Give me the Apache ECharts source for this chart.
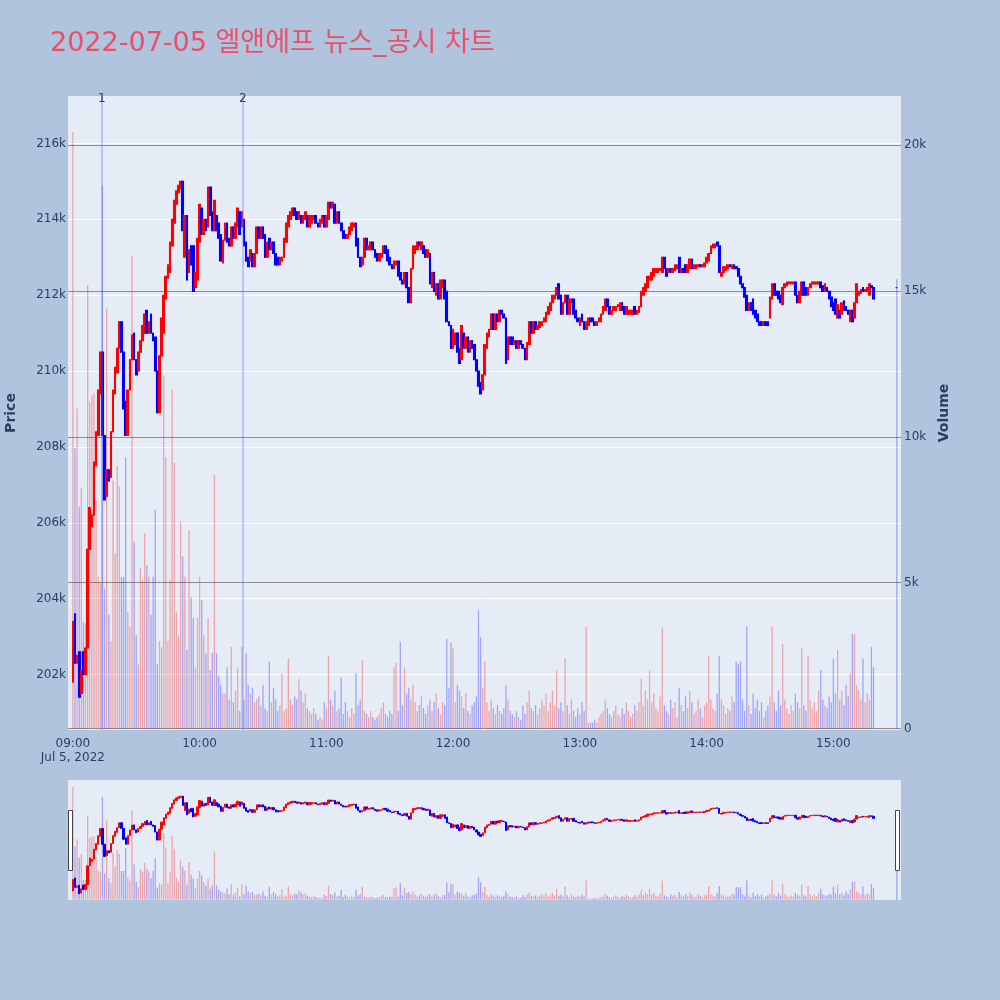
<!DOCTYPE html>
<html>
<head>
<meta charset="utf-8">
<script src="https://cdn.jsdelivr.net/npm/echarts@6/dist/echarts.min.js"></script>
<style>
html,body{margin:0;padding:0;background:#B0C4DE;}
#chart{width:1000px;height:1000px;}
</style>
</head>
<body>
<div id="chart"></div>
<script>
// ---------------- data ----------------
const chartTitle = '2022-07-05 엘앤에프 뉴스_공시 차트';
const dayLabel = 'Jul 5, 2022';
const firstBarTime = '09:00';
const closingAuctionTime = '15:30';
const continuousBars = 380; // 09:00 .. 15:19, then the 15:30 closing auction bar

// prices in thousands of KRW
const opens = [
201.8,203.6,202.3,202.6,201.5,202.6,202.0,202.7,205.3,205.9,
206.2,207.5,208.3,209.4,210.5,208.3,206.7,207.4,207.2,208.4,
209.4,209.95,210.6,211.3,210.5,209.2,208.3,209.5,210.3,211.0,
210.3,210.0,210.5,210.8,211.0,211.6,211.0,211.5,211.0,210.9,
210.0,208.9,210.4,211.0,211.9,212.45,212.6,213.3,213.9,214.4,
214.7,214.8,215.0,213.0,214.1,212.6,213.3,213.3,212.2,212.4,
213.4,214.3,213.6,214.0,213.8,214.85,214.2,213.7,214.1,213.9,
213.6,212.85,213.45,213.9,213.5,213.3,213.8,213.5,213.8,214.2,
213.8,214.0,213.4,213.0,212.9,213.1,212.75,213.1,213.8,213.5,
213.8,213.6,213.0,213.5,213.2,213.4,213.1,213.0,212.8,212.9,
213.0,213.4,213.8,214.0,214.1,214.3,214.2,214.0,214.1,213.9,
214.0,214.1,213.8,213.9,214.0,214.1,213.9,213.8,213.9,214.1,
213.8,214.0,214.45,214.3,214.4,213.9,214.2,213.9,213.7,213.6,
213.5,213.6,213.7,213.8,213.9,213.5,213.0,212.8,213.0,213.5,
213.2,213.2,213.4,213.2,213.1,212.9,213.0,213.1,213.3,213.2,
213.0,212.8,212.7,212.8,212.9,212.6,212.4,212.3,212.6,212.2,
211.8,212.7,213.1,213.2,213.4,213.2,213.3,213.2,213.0,213.1,
212.2,212.6,212.0,212.3,211.9,212.2,212.4,212.1,211.3,211.2,
210.6,210.7,211.0,210.6,210.3,211.0,210.6,210.9,210.5,210.8,
210.7,210.3,210.0,209.7,209.5,209.9,210.6,210.9,211.1,211.5,
211.1,211.5,211.3,211.6,211.5,211.4,210.3,210.9,210.9,210.7,
210.8,210.6,210.8,210.7,210.6,210.3,210.7,211.3,211.0,211.3,
211.1,211.15,211.2,211.3,211.3,211.5,211.6,211.8,211.9,212.0,
212.3,212.0,211.5,211.8,212.0,211.5,211.8,211.9,211.6,211.4,
211.2,211.5,211.3,211.1,211.2,211.4,211.4,211.3,211.2,211.3,
211.3,211.5,211.6,211.9,211.7,211.5,211.6,211.6,211.7,211.6,
211.8,211.7,211.5,211.5,211.5,211.5,211.7,211.5,211.55,211.7,
212.0,212.1,212.2,212.4,212.4,212.5,212.6,212.6,212.65,212.6,
213.0,212.7,212.6,212.7,212.6,212.65,212.7,213.0,212.6,212.7,
212.8,212.6,212.7,212.95,212.7,212.7,212.75,212.8,212.75,212.75,
212.85,212.9,213.1,213.25,213.25,213.4,213.3,212.5,212.6,212.65,
212.7,212.8,212.7,212.8,212.75,212.7,212.5,212.3,212.2,212.0,
211.6,211.8,211.9,211.6,211.5,211.3,211.3,211.2,211.3,211.3,
211.4,211.9,212.3,212.1,212.1,212.0,211.75,212.2,212.25,212.3,
212.3,212.3,212.35,212.0,211.8,212.0,212.35,212.2,212.0,212.2,
212.3,212.3,212.3,212.3,212.35,212.25,212.1,212.2,212.1,211.95,
211.8,211.9,211.4,211.6,211.5,211.85,211.7,211.6,211.3,211.6,
211.4,211.8,212.0,212.05,212.2,212.1,212.1,212.0,212.25,212.2,
212.2
];
const closes = [
203.4,202.3,202.5,201.4,202.1,202.0,202.7,205.3,206.4,206.2,
207.6,208.4,209.5,210.5,208.3,206.6,207.4,207.1,208.4,209.5,
210.1,210.6,211.3,210.5,209.0,208.3,209.5,210.3,210.95,210.3,
209.9,210.5,210.8,211.2,211.5,211.0,211.3,211.0,210.8,210.0,
208.9,210.4,211.4,212.0,212.5,212.8,213.4,214.0,214.5,214.75,
214.9,215.0,213.7,214.1,212.4,213.2,212.8,212.1,212.6,213.5,
214.4,213.6,214.0,213.7,214.85,214.1,213.7,214.5,213.7,213.5,
212.9,213.45,213.9,213.4,213.3,213.8,213.5,213.9,214.3,213.6,
214.2,213.3,212.9,212.75,213.2,212.75,213.1,213.8,213.5,213.8,
213.5,213.0,213.4,213.2,213.4,213.1,212.8,212.8,213.0,213.0,
213.5,213.9,214.1,214.2,214.3,214.1,214.0,214.2,213.9,214.1,
214.2,213.8,214.1,214.1,214.1,213.9,213.8,214.0,214.1,213.8,
214.1,214.45,214.3,214.45,213.9,214.2,213.9,213.7,213.5,213.5,
213.6,213.8,213.9,213.9,213.3,213.0,212.75,213.0,213.5,213.2,
213.3,213.4,213.2,213.0,212.9,213.1,213.1,213.3,213.1,212.9,
212.8,212.7,212.9,212.9,212.5,212.4,212.3,212.6,212.2,211.8,
212.7,213.3,213.3,213.4,213.3,213.4,213.1,213.0,213.2,212.3,
212.6,212.1,212.3,211.9,212.4,212.4,211.9,211.3,211.2,210.6,
211.1,211.0,210.5,210.2,211.2,210.6,210.9,210.5,210.8,210.6,
210.3,210.0,209.6,209.4,209.9,210.7,211.0,211.1,211.5,211.1,
211.5,211.3,211.6,211.5,211.4,210.2,210.9,210.7,210.7,210.8,
210.6,210.8,210.7,210.6,210.3,210.75,211.3,211.0,211.3,211.1,
211.2,211.3,211.3,211.4,211.55,211.7,211.8,212.0,212.0,212.2,
211.9,211.5,211.8,212.0,211.5,211.9,211.9,211.5,211.4,211.3,
211.4,211.3,211.1,211.3,211.4,211.3,211.3,211.2,211.3,211.4,
211.5,211.7,211.9,211.7,211.5,211.6,211.7,211.7,211.75,211.8,
211.6,211.5,211.7,211.6,211.6,211.6,211.5,211.6,211.7,212.1,
212.2,212.3,212.5,212.5,212.6,212.7,212.7,212.7,212.7,213.0,
212.7,212.5,212.7,212.6,212.7,212.8,212.8,212.6,212.7,212.6,
212.6,212.8,212.95,212.7,212.8,212.8,212.8,212.75,212.8,212.85,
213.0,213.1,213.3,213.35,213.35,213.3,212.6,212.6,212.75,212.75,
212.8,212.75,212.8,212.7,212.7,212.5,212.3,212.2,211.95,211.6,
211.8,211.6,211.5,211.4,211.3,211.2,211.2,211.3,211.2,211.2,
211.95,212.3,212.0,212.0,211.9,211.8,212.2,212.3,212.35,212.35,
212.35,212.35,212.0,211.8,212.1,212.35,212.0,212.0,212.2,212.3,
212.35,212.35,212.35,212.35,212.2,212.1,212.3,212.1,211.9,211.7,
211.6,211.5,211.75,211.4,211.8,211.6,211.6,211.5,211.6,211.3,
211.8,212.3,212.1,212.15,212.1,212.15,212.2,212.3,212.2,211.9,
212.2
];
// volume in thousands of shares
const volumes = [
20.45,9.6,10.97,7.6,8.26,3.65,3.6,15.2,11.2,11.4,
11.5,7.8,5.2,5.0,18.6,4.8,14.4,3.9,3.0,8.5,
6.0,9.0,8.3,5.2,5.2,9.3,4.0,3.5,16.2,6.4,
3.2,2.2,5.5,5.1,6.7,5.6,5.2,3.9,5.2,7.5,
2.2,3.0,2.8,12.1,9.3,3.0,5.1,11.6,9.1,4.0,
3.2,7.1,5.9,5.2,2.7,6.8,4.5,3.8,2.1,3.8,
5.2,4.4,3.2,2.6,3.8,2.0,2.6,8.7,2.6,1.8,
1.5,1.2,1.2,2.1,1.0,2.8,0.9,1.3,2.1,0.6,
2.8,1.0,2.6,1.5,1.2,1.4,0.9,1.0,1.1,0.8,
1.5,0.7,0.6,2.3,0.9,1.4,1.0,0.6,0.8,1.9,
0.6,0.7,2.4,1.0,0.8,1.1,1.0,1.7,1.3,0.9,
1.2,0.7,0.6,0.5,0.7,0.5,0.3,0.4,0.3,0.9,
0.7,2.5,1.0,0.8,1.3,0.6,0.7,1.75,0.5,0.9,
0.6,0.4,0.7,0.5,1.9,0.8,1.0,2.35,0.6,0.5,
0.4,0.6,0.4,0.3,0.4,0.5,0.7,0.9,0.5,0.4,
0.6,0.5,2.1,2.26,0.6,2.98,0.8,2.1,1.2,1.4,
1.0,1.5,0.9,0.6,0.8,1.1,0.7,0.5,0.8,1.0,
0.6,0.9,1.2,0.7,0.5,0.9,0.8,3.07,1.4,2.95,
2.76,0.9,1.5,1.3,1.1,0.7,1.2,0.6,0.5,0.8,
0.9,1.1,4.06,3.15,1.4,2.3,0.9,0.6,1.0,0.7,
0.5,0.8,0.6,0.5,0.7,1.5,1.0,0.6,0.5,0.4,
0.6,0.4,0.3,0.8,0.5,0.9,1.3,0.7,0.6,0.8,
0.5,0.7,1.0,0.8,1.2,0.6,0.9,1.3,0.8,2.0,
0.7,0.9,0.6,2.4,0.8,0.5,1.0,0.6,0.4,0.7,
0.5,0.9,0.6,3.5,0.2,0.2,0.2,0.3,0.2,0.4,
0.5,0.6,1.0,0.7,0.5,0.4,0.6,0.8,0.5,0.4,
0.7,0.5,0.9,0.6,0.4,0.5,0.8,0.6,0.9,1.7,
0.8,1.3,1.0,2.0,0.9,1.2,0.7,0.6,1.1,3.47,
0.8,0.6,0.5,1.0,0.7,0.9,0.4,1.4,0.8,0.6,
1.1,0.7,1.3,0.9,0.5,0.6,1.0,0.7,0.4,0.8,
0.9,2.5,1.0,0.7,0.6,1.2,2.5,1.0,0.8,0.5,
0.7,0.6,1.1,0.9,2.3,2.2,2.3,1.0,0.6,3.5,
0.8,0.5,1.2,0.7,1.0,0.6,0.9,0.4,0.6,0.8,
1.1,3.5,0.9,0.6,1.3,0.8,2.9,1.0,0.7,0.5,
0.8,0.6,1.2,0.9,0.7,2.75,0.8,0.6,2.5,1.0,
0.7,0.9,0.6,1.3,2.0,1.0,0.8,0.7,1.1,0.9,
2.4,1.2,2.7,1.0,1.3,0.8,1.5,1.1,1.9,3.24,
3.24,1.5,1.3,1.0,2.4,0.9,1.2,1.0,2.8,2.1,
15.4
];
// news markers
const newsTimes = ['09:13:40', '10:20:25'];
const newsLabels = ['1', '2'];
// axis ticks
const priceTicks = [202, 204, 206, 208, 210, 212, 214, 216];
const volumeTicks = [0, 5, 10, 15, 20];
const timeTicks = ['09:00', '10:00', '11:00', '12:00', '13:00', '14:00', '15:00'];

// ---------------- helpers ----------------
function toMin(t) {
  const p = t.split(':').map(Number);
  return (p[0] - 9) * 60 + p[1] + (p[2] || 0) / 60;
}
function fmtMin(m) {
  const h = 9 + Math.floor(m / 60), mm = Math.round(m % 60);
  return String(h).padStart(2, '0') + ':' + String(mm).padStart(2, '0');
}
const times = [];
const start = toMin(firstBarTime);
for (let i = 0; i < continuousBars; i++) times.push(fmtMin(start + i));
times.push(closingAuctionTime);
const xs = times.map(toMin);

const UP = '#ff0000', DOWN = '#0000ff';
const UP_VOL = 'rgba(255,0,0,0.3)', DOWN_VOL = 'rgba(0,0,255,0.3)';

const candleData = opens.map((o, i) => [xs[i], o, closes[i], Math.min(o, closes[i]), Math.max(o, closes[i])]);
const volData = volumes.map((v, i) => ({
  value: [xs[i], v],
  itemStyle: { color: closes[i] > opens[i] ? UP_VOL : DOWN_VOL }
}));

const X_MIN = -2.3, X_MAX = 392;
const P_MIN = 200.537, P_MAX = 217.252;
const V_MIN = -0.048, V_MAX = 21.68;
const FONT = '"DejaVu Sans", "Noto Sans CJK KR", sans-serif';
const TXT = '#2a3f5f';

const chart = echarts.init(document.getElementById('chart'), null, { renderer: 'canvas' });
chart.setOption({
  animation: false,
  backgroundColor: '#B0C4DE',
  textStyle: { fontFamily: FONT },
  title: {
    text: chartTitle, left: 50, top: 30, padding: 0,
    textStyle: { fontFamily: FONT, fontSize: 27, fontWeight: 'normal', color: '#EB5069' }
  },
  grid: [
    { left: 68, top: 96, width: 833, height: 634, show: true, backgroundColor: '#E5ECF6', borderWidth: 0, containLabel: false, outerBoundsMode: 'none' },
    { left: 68, top: 780, width: 833, height: 120, show: true, backgroundColor: '#E5ECF6', borderWidth: 0, containLabel: false, outerBoundsMode: 'none' }
  ],
  xAxis: [
    {
      type: 'value', gridIndex: 0, min: X_MIN, max: X_MAX,
      axisLine: { show: false },
      axisTick: { show: false, customValues: timeTicks.map(toMin) },
      splitLine: { show: false },
      axisLabel: {
        customValues: timeTicks.map(toMin),
        color: TXT, fontSize: 12, fontFamily: FONT, margin: 7, lineHeight: 14,
        formatter: v => v === 0 ? fmtMin(v) + '\n' + dayLabel : fmtMin(v)
      }
    },
    {
      type: 'value', gridIndex: 1, min: X_MIN, max: X_MAX, show: false,
      splitLine: { show: false }
    }
  ],
  yAxis: [
    {
      type: 'value', gridIndex: 0, position: 'left', min: P_MIN, max: P_MAX,
      name: 'Price', nameLocation: 'middle', nameGap: 50, nameRotate: 90,
      nameTextStyle: { color: TXT, fontSize: 14, fontWeight: 'bold', fontFamily: FONT },
      axisLine: { show: false },
      axisTick: { show: false, customValues: priceTicks },
      axisLabel: { customValues: priceTicks, color: TXT, fontSize: 12, fontFamily: FONT, margin: 2, formatter: v => v + 'k' },
      splitLine: { show: true, lineStyle: { color: '#ffffff', width: 1 } }
    },
    {
      type: 'value', gridIndex: 0, position: 'right', min: V_MIN, max: V_MAX,
      name: 'Volume', nameLocation: 'middle', nameGap: 36, nameRotate: 90,
      nameTextStyle: { color: TXT, fontSize: 14, fontWeight: 'bold', fontFamily: FONT },
      axisLine: { show: false },
      axisTick: { show: false, customValues: volumeTicks },
      axisLabel: { customValues: volumeTicks, color: TXT, fontSize: 12, fontFamily: FONT, margin: 3, formatter: v => v === 0 ? '0' : v + 'k' },
      splitLine: { show: true, lineStyle: { color: '#8c8c8c', width: 1 } }
    },
    { type: 'value', gridIndex: 1, min: P_MIN, max: P_MAX, show: false, splitLine: { show: false } },
    { type: 'value', gridIndex: 1, min: V_MIN, max: V_MAX, show: false, splitLine: { show: false } }
  ],
  series: [
    {
      type: 'candlestick', xAxisIndex: 0, yAxisIndex: 0, z: 2,
      barWidth: 2.2,
      itemStyle: { color: UP, color0: DOWN, borderColor: UP, borderColor0: DOWN, borderWidth: 1.1 },
      data: candleData
    },
    {
      type: 'bar', xAxisIndex: 0, yAxisIndex: 1, z: 3, barWidth: 1.3,
      data: volData,
      markLine: {
        silent: true, symbol: ['none', 'none'],
        lineStyle: { color: 'rgba(90,120,250,0.45)', width: 1.5, type: 'solid' },
        label: { show: true, position: 'end', formatter: '{b}', color: TXT, fontSize: 12, fontFamily: FONT, distance: -9 },
        data: newsTimes.map((t, i) => ({ xAxis: toMin(t), name: newsLabels[i] }))
      }
    },
    {
      type: 'candlestick', xAxisIndex: 1, yAxisIndex: 2, z: 2,
      barWidth: 1.8,
      itemStyle: { color: UP, color0: DOWN, borderColor: UP, borderColor0: DOWN, borderWidth: 1 },
      data: candleData
    },
    {
      type: 'bar', xAxisIndex: 1, yAxisIndex: 3, z: 3, barWidth: 1.3,
      data: volData
    }
  ],
  graphic: [
    { type: 'rect', shape: { x: 68.5, y: 810.5, width: 4, height: 60 }, style: { fill: '#ffffff', stroke: '#444444', lineWidth: 1 }, z: 100 },
    { type: 'rect', shape: { x: 895.5, y: 810.5, width: 4, height: 60 }, style: { fill: '#ffffff', stroke: '#444444', lineWidth: 1 }, z: 100 }
  ]
});
</script>
</body>
</html>
